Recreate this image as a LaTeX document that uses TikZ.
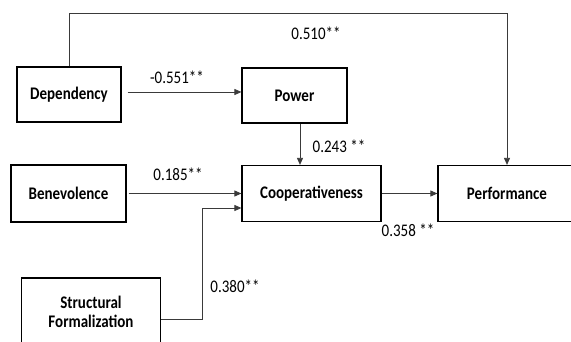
\documentclass[tikz,border=0pt]{standalone}
\usepackage{fontspec}
\setmainfont{Carlito}
\usepackage{graphicx}
\usepackage{xcolor}
\usetikzlibrary{positioning, arrows.meta}
\definecolor{nInk}{HTML}{3A3A3A}
\newcommand{\tallt}[1]{\scalebox{1}[1.18]{#1}}
\tikzset{
  varbox/.style={draw=black, line width=1.2pt, fill=white, inner sep=1pt,
    font=\fontsize{15}{19}\selectfont\bfseries, align=center},
  coef/.style={font=\fontsize{15}{17}\selectfont, inner sep=0pt},
  path/.style={-{Triangle[length=7pt, width=6pt]}, line width=0.8pt, nInk},
}

\begin{document}
\begin{tikzpicture}[x=1pt, y=-1pt]
  \useasboundingbox (0,0) rectangle (571,342);
  \clip (0,0) rectangle (571,342);
  % constructs
  \node[varbox, minimum width=104pt, minimum height=55pt] (dep) at (69,94.5) {\tallt{Dependency}};
  \node[varbox, minimum width=115pt, minimum height=57pt] (ben) at (68.5,193.5) {\tallt{Benevolence}};
  \node[varbox, minimum width=139pt, minimum height=68pt] (sf) at (91,312) {\tallt{Structural}\\\tallt{Formalization}};
  \node[varbox, minimum width=105pt, minimum height=55pt] (pow) at (294.5,95.5) {\tallt{Power}};
  \node[varbox, minimum width=139pt, minimum height=56pt] (coop) at (311.5,193.5) {\tallt{Cooperativeness}};
  \node[varbox, minimum width=138pt, minimum height=56pt] (perf) at (507,193.5) {\tallt{Performance}};
  % helper points for the bent paths
  \coordinate (top) at (508,13);
  \coordinate (sfout) at (161,319);
  \coordinate (sfbend) at (202,208);
  % paths
  \draw[path] (dep.north) -- (dep.north |- top) -| (perf.north);
  \draw[path, shorten <=6pt] ([yshift=2.5pt]dep.east) -- ([yshift=2.5pt]dep.east -| pow.west);
  \draw[path] (pow.south -| 300,0) -- (coop.north -| 300,0);
  \draw[path, shorten <=2pt] (ben.east) -- (ben.east -| coop.west);
  \draw[path] (sfout) -| (sfbend) -- (sfbend -| coop.west);
  \draw[path] (coop.east) -- (perf.west);
  % coefficients
  \node[coef] (cDepPerf) at (316,33) {\tallt{0.510**}};
  \node[coef] (cDepPow) at (177,77) {\tallt{-0.551**}};
  \node[coef] (cPowCoop) at (339,146) {\tallt{0.243 **}};
  \node[coef] (cBenCoop) at (178,174) {\tallt{0.185**}};
  \node[coef] (cSfCoop) at (235,286) {\tallt{0.380**}};
  \node[coef] (cCoopPerf) at (408,230) {\tallt{0.358 **}};
\end{tikzpicture}
\end{document}
